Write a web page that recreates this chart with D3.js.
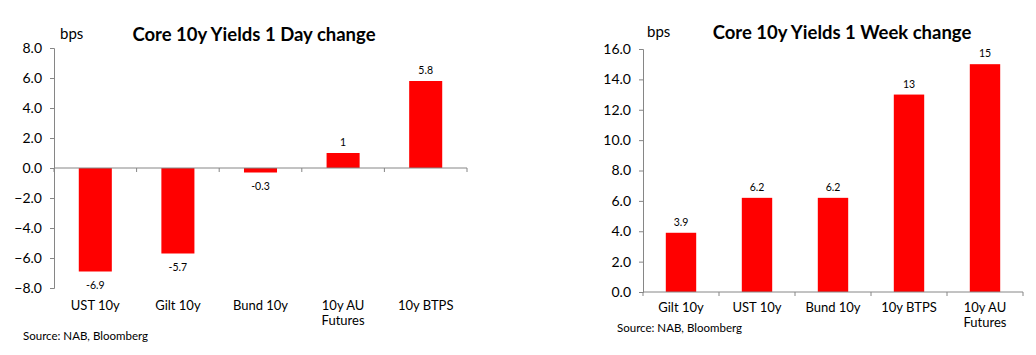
<!DOCTYPE html>
<html><head><meta charset="utf-8">
<script src="https://cdn.jsdelivr.net/npm/d3@7"></script>
<style>
body{margin:0;background:#fff;}
svg{display:block;font-family:Lato,"Open Sans",sans-serif;}
</style></head>
<body>
<svg id="c" width="1036" height="355"></svg>
<script>
// Data
const dayCategories = [["UST 10y"],["Gilt 10y"],["Bund 10y"],["10y AU","Futures"],["10y BTPS"]];
const dayValues = [-6.9, -5.7, -0.3, 1, 5.8];
const dayTicks = [-8,-6,-4,-2,0,2,4,6,8];
const weekCategories = [["Gilt 10y"],["UST 10y"],["Bund 10y"],["10y BTPS"],["10y AU","Futures"]];
const weekValues = [3.9, 6.2, 6.2, 13, 15];
const weekTicks = [0,2,4,6,8,10,12,14,16];

const svg = d3.select("#c");
const axisColor = "#868686";

function drawChart(o){
  const g = svg.append("g");
  const cats = o.cats.map((c,i)=>i);
  const x = d3.scaleBand().domain(cats).range([o.x0,o.x1]).padding(0);
  const y = d3.scaleLinear().domain([o.ticks[0],o.ticks[o.ticks.length-1]]).range([o.yBottom,o.yTop]);
  const bw = x.bandwidth()*0.4;

  // bars
  g.selectAll("rect.bar").data(o.values).enter().append("rect")
    .attr("x",(d,i)=>x(i)+x.bandwidth()/2-bw/2)
    .attr("width",bw)
    .attr("y",d=>y(Math.max(0,d)))
    .attr("height",d=>Math.abs(y(d)-y(0)))
    .attr("fill","#ff0000");

  // y axis
  const ya = d3.axisLeft(y).tickValues(o.ticks).tickFormat(d3.format(".1f")).tickSize(4).tickPadding(8);
  const yg = g.append("g").attr("transform",`translate(${o.x0},0)`).call(ya);
  yg.select(".domain").attr("stroke",axisColor);
  yg.selectAll(".tick line").attr("stroke",axisColor);
  yg.selectAll(".tick text").attr("fill","#000").style("font-size","14px").style("font-family","Lato");

  // x axis line at 0 with ticks at boundaries
  g.append("line").attr("x1",o.x0).attr("x2",o.x1).attr("y1",y(0)).attr("y2",y(0)).attr("stroke",axisColor);
  const bounds = cats.map(i=>x(i)).concat([o.x1]);
  g.selectAll("line.xt").data(bounds).enter().append("line")
    .attr("x1",d=>d).attr("x2",d=>d).attr("y1",y(0)).attr("y2",y(0)+4).attr("stroke",axisColor);

  // data labels
  g.selectAll("text.dl").data(o.values).enter().append("text")
    .attr("x",(d,i)=>x(i)+x.bandwidth()/2)
    .attr("y",d=> d>=0 ? y(d)-7 : y(d)+17)
    .attr("text-anchor","middle").style("font-size","10.5px").attr("fill","#000")
    .text(d=>String(d));

  // category labels
  const cl = g.selectAll("text.cl").data(o.cats).enter().append("text")
    .attr("x",(d,i)=>x(i)+x.bandwidth()/2)
    .attr("y",o.catY)
    .attr("text-anchor","middle").style("font-size","13px").attr("fill","#000");
  cl.each(function(d,i){
    const t = d3.select(this);
    const xx = x(i)+x.bandwidth()/2;
    d.forEach((line,j)=>t.append("tspan").attr("x",xx).attr("dy",j?15:0).text(line));
  });

  // title
  g.append("text").attr("x",o.titleX).attr("y",o.titleY).attr("text-anchor","middle")
    .style("font-size","18.5px").style("font-weight","bold").attr("fill","#000").text(o.title);
  // unit
  g.append("text").attr("x",o.bpsX).attr("y",o.titleY-2).style("font-size","15px").attr("fill","#000").text("bps");
  // source
  g.append("text").attr("x",o.srcX).attr("y",o.srcY).style("font-size","11.5px").attr("fill","#000").text("Source: NAB, Bloomberg");
}

drawChart({cats:dayCategories, values:dayValues, ticks:dayTicks,
  x0:54, x1:467, yTop:48, yBottom:288, catY:310,
  title:"Core 10y Yields 1 Day change", titleX:254, titleY:41, bpsX:60, srcX:23, srcY:340});
drawChart({cats:weekCategories, values:weekValues, ticks:weekTicks,
  x0:643, x1:1023, yTop:49, yBottom:292, catY:312,
  title:"Core 10y Yields 1 Week change", titleX:842, titleY:39, bpsX:647, srcX:617, srcY:332});
</script>
</body></html>
